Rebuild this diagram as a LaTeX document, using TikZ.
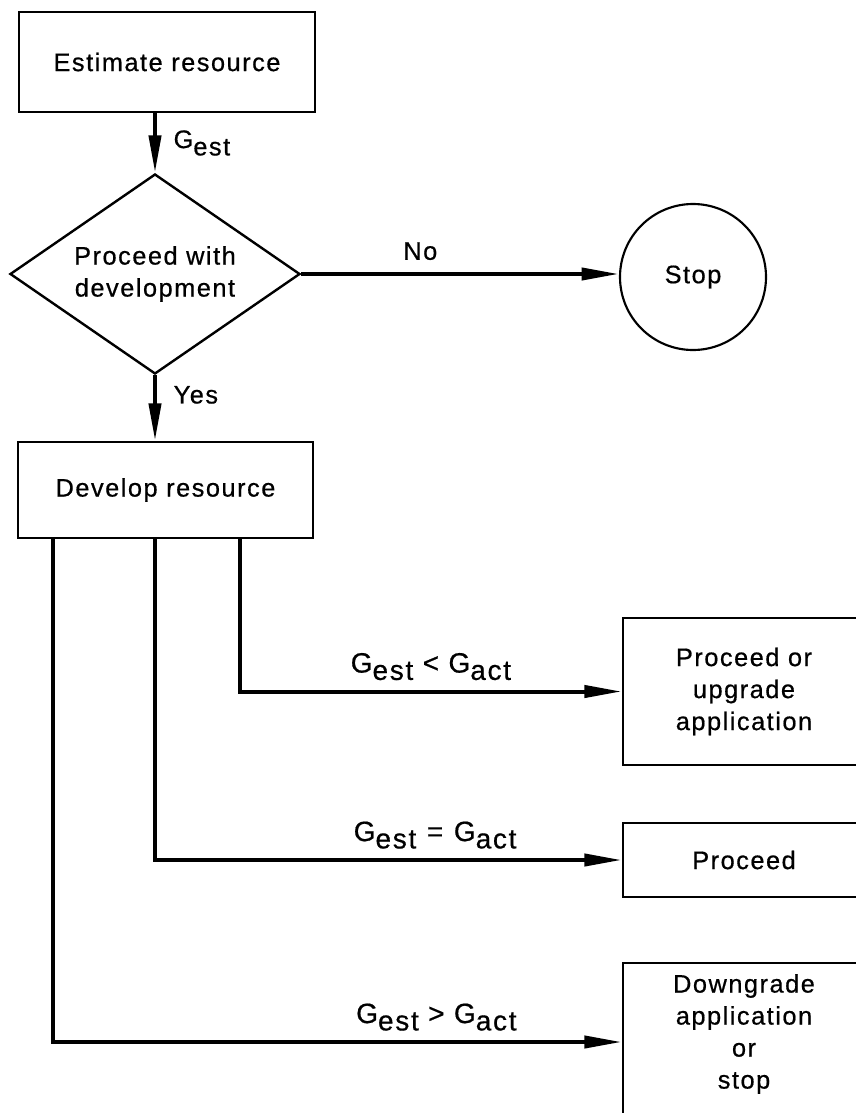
\documentclass[tikz,border=0pt]{standalone}
\usepackage{fontspec}
\setmainfont{Liberation Sans}[LetterSpace=6,FakeBold=0.6]
\usetikzlibrary{shapes.geometric,arrows.meta,calc}
\newcommand\Gsub[1]{G\raisebox{-5.5pt}{#1}}
\begin{document}
\begin{tikzpicture}[x=0.75pt,y=-0.75pt,
  font=\fontsize{19}{24}\selectfont,
  box/.style={draw,line width=1.8pt,rectangle,inner sep=0pt,align=center},
  conn/.style={line width=3pt,-{Triangle[length=28pt,width=9pt]}},
  lbl/.style={inner sep=0pt},
  cmp/.style={inner sep=0pt,font=\fontsize{21}{24}\selectfont}]
\useasboundingbox (0,0) rectangle (856,1113);
\fill[white] (0,0) rectangle (856,1113);
\clip (0,0) rectangle (856,1113);

\node[box,minimum width=222pt,minimum height=75pt] (est) at (167,62) {Estimate resource};
\node[draw,line width=1.8pt,diamond,aspect=1.45,minimum width=217.5pt,minimum height=150pt,inner sep=0pt,align=center] (dec) at (155,274) {Proceed with\\development};
\node[draw,line width=1.6pt,circle,minimum size=109.5pt,inner sep=0pt] (stop) at (693,277) {Stop};
\node[box,minimum width=221.25pt,minimum height=72pt] (dev) at (165.5,490) {Develop resource};
\node[box,minimum width=181.5pt,minimum height=110.25pt] (up) at (744,691.5) {Proceed or\\upgrade\\application};
\node[box,minimum width=181.5pt,minimum height=55.5pt] (proc) at (744,860) {Proceed};
\node[box,minimum width=181.5pt,minimum height=118.5pt] (down) at (744,1042) {};
\node[align=center,inner sep=0pt] (downtxt) at (744,1034) {Downgrade\\application\\or\\stop};

\draw[conn] (dec.north |- est.south) -- node[lbl,right,xshift=12.5pt]{\Gsub{est}} (dec.north);
\draw[conn] (dec.south) -- node[lbl,pos=0.3,right,xshift=12.5pt]{Yes} (dec.south |- dev.north);
\draw[conn] (dec.east) -- node[lbl,pos=0.375,above=9pt]{No} (dec.east -| stop.west);

\draw[conn] ($(dec.south |- dev.south)+(85,0)$) |- node[cmp,pos=0.75,above=7pt]{\Gsub{est} < \Gsub{act}} (up.west);
\draw[conn] (dec.south |- dev.south) |- node[cmp,pos=0.8,above=7pt]{\Gsub{est}\hspace{8pt}=\hspace{8pt}\Gsub{act}} (proc.west);
\draw[conn] ($(dec.south |- dev.south)+(-102,0)$) |- node[cmp,pos=0.837,above=7pt]{\Gsub{est} > \Gsub{act}} (down.west);
\end{tikzpicture}
\end{document}
